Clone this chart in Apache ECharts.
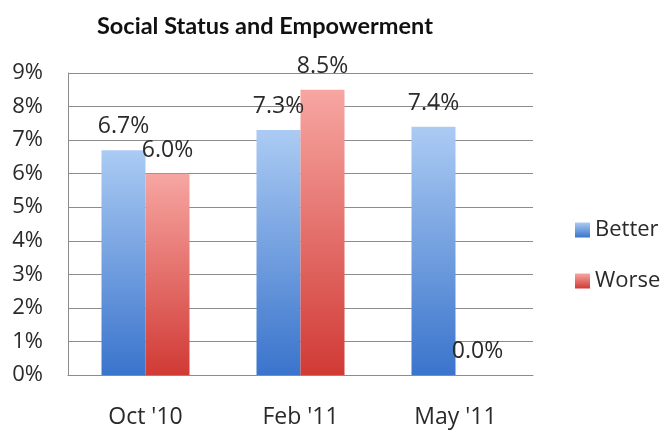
<!DOCTYPE html>
<html>
<head>
    <meta charset="UTF-8">
    <title>Social Status and Empowerment</title>
    <script src="https://cdn.jsdelivr.net/npm/echarts@6/dist/echarts.min.js"></script>
    <style>
        html, body { margin: 0; padding: 0; background: #fff; }
        #main { width: 671px; height: 431px; }
    </style>
</head>
<body>
<div id="main"></div>
<script>
    // data
    var categories = ["Oct '10", "Feb '11", "May '11"];
    var better = [6.7, 7.3, 7.4];
    var worse = [6.0, 8.5, 0.0];
    var yTicks = [0, 1, 2, 3, 4, 5, 6, 7, 8, 9];

    var titleFont = 'Lato, "Open Sans", sans-serif';
    var font = '"Open Sans", Lato, sans-serif';
    var txt = '#2a2a2a';

    function grad(top, bottom) {
        return new echarts.graphic.LinearGradient(0, 0, 0, 1, [
            { offset: 0, color: top },
            { offset: 1, color: bottom }
        ]);
    }

    var myChart = echarts.init(document.getElementById('main'));

    var option = {
        animation: false,
        title: {
            text: 'Social Status and Empowerment',
            left: 92,
            top: 9,
            textStyle: { fontFamily: titleFont, fontSize: 23.5, fontWeight: 'bold', color: '#111' }
        },
        legend: {
            orient: 'vertical',
            left: 570,
            top: 214,
            itemWidth: 15,
            itemHeight: 15,
            itemGap: 29,
            icon: 'rect',
            textStyle: { fontFamily: font, fontSize: 22, color: txt },
            data: ['Better', 'Worse']
        },
        grid: { left: 68, right: 138, top: 73, bottom: 56 },
        xAxis: {
            type: 'category',
            data: categories,
            axisLine: { lineStyle: { color: '#8c8c8c' } },
            axisTick: { show: false },
            axisLabel: { margin: 31, fontFamily: font, fontSize: 23, color: txt }
        },
        yAxis: {
            type: 'value',
            min: yTicks[0],
            max: yTicks[yTicks.length - 1],
            interval: 1,
            axisLine: { show: true, lineStyle: { color: '#8c8c8c' } },
            axisTick: { show: false },
            splitLine: { lineStyle: { color: '#8c8c8c' } },
            axisLabel: {
                margin: 25,
                fontFamily: font, fontSize: 22, color: txt,
                formatter: function (v) { return v + '%'; }
            }
        },
        series: [
            {
                name: 'Better',
                type: 'bar',
                data: better,
                barWidth: 44,
                barGap: '0%',
                itemStyle: { color: grad('#abcbf3', '#3a74cc') },
                label: {
                    show: true, position: 'top', distance: 12,
                    fontFamily: font, fontSize: 23, color: txt,
                    formatter: function (p) { return p.value.toFixed(1) + '%'; }
                }
            },
            {
                name: 'Worse',
                type: 'bar',
                data: worse,
                barWidth: 44,
                itemStyle: { color: grad('#f7a6a2', '#d13a35') },
                label: {
                    show: true, position: 'top', distance: 12,
                    fontFamily: font, fontSize: 23, color: txt,
                    formatter: function (p) { return p.value.toFixed(1) + '%'; }
                }
            }
        ]
    };

    myChart.setOption(option);
</script>
</body>
</html>
